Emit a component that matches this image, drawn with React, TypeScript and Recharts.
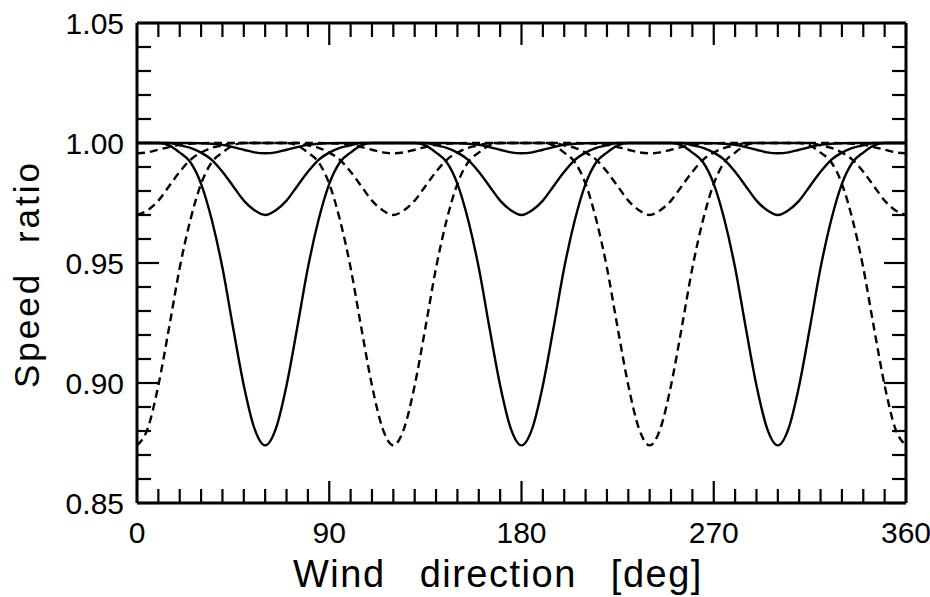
import { LineChart, Line, XAxis, YAxis, ReferenceLine } from "recharts";

// wind direction samples, every 5 degrees
const theta = [
  0, 5, 10, 15, 20, 25, 30, 35, 40, 45, 50, 55, 60, 65, 70, 75, 80, 85, 90, 95, 100, 105, 110, 115,
  120, 125, 130, 135, 140, 145, 150, 155, 160, 165, 170, 175, 180, 185, 190, 195, 200, 205, 210, 215, 220, 225, 230, 235,
  240, 245, 250, 255, 260, 265, 270, 275, 280, 285, 290, 295, 300, 305, 310, 315, 320, 325, 330, 335, 340, 345, 350, 355,
  360,
];

// solid curves: dips at 60 / 180 / 300
const solidDeep = [
  1.0, 1.0, 1.0, 0.999, 0.996, 0.992, 0.983, 0.968, 0.948, 0.923, 0.899, 0.881, 0.874, 0.881, 0.899, 0.923, 0.948, 0.968, 0.983, 0.992, 0.996, 0.999, 1.0, 1.0,
  1.0, 1.0, 1.0, 0.999, 0.996, 0.992, 0.983, 0.968, 0.948, 0.923, 0.899, 0.881, 0.874, 0.881, 0.899, 0.923, 0.948, 0.968, 0.983, 0.992, 0.996, 0.999, 1.0, 1.0,
  1.0, 1.0, 1.0, 0.999, 0.996, 0.992, 0.983, 0.968, 0.948, 0.923, 0.899, 0.881, 0.874, 0.881, 0.899, 0.923, 0.948, 0.968, 0.983, 0.992, 0.996, 0.999, 1.0, 1.0,
  1.0,
];
const solidMid = [
  1.0, 1.0, 1.0, 1.0, 0.999, 0.998, 0.996, 0.993, 0.988, 0.982, 0.976, 0.972, 0.97, 0.972, 0.976, 0.982, 0.988, 0.993, 0.996, 0.998, 0.999, 1.0, 1.0, 1.0,
  1.0, 1.0, 1.0, 1.0, 0.999, 0.998, 0.996, 0.993, 0.988, 0.982, 0.976, 0.972, 0.97, 0.972, 0.976, 0.982, 0.988, 0.993, 0.996, 0.998, 0.999, 1.0, 1.0, 1.0,
  1.0, 1.0, 1.0, 1.0, 0.999, 0.998, 0.996, 0.993, 0.988, 0.982, 0.976, 0.972, 0.97, 0.972, 0.976, 0.982, 0.988, 0.993, 0.996, 0.998, 0.999, 1.0, 1.0, 1.0,
  1.0,
];
const solidSmall = [
  1.0, 1.0, 1.0, 1.0, 1.0, 1.0, 0.9999, 0.9997, 0.9992, 0.9983, 0.9972, 0.9961, 0.9957, 0.9961, 0.9972, 0.9983, 0.9992, 0.9997, 0.9999, 1.0, 1.0, 1.0, 1.0, 1.0,
  1.0, 1.0, 1.0, 1.0, 1.0, 1.0, 0.9999, 0.9997, 0.9992, 0.9983, 0.9972, 0.9961, 0.9957, 0.9961, 0.9972, 0.9983, 0.9992, 0.9997, 0.9999, 1.0, 1.0, 1.0, 1.0, 1.0,
  1.0, 1.0, 1.0, 1.0, 1.0, 1.0, 0.9999, 0.9997, 0.9992, 0.9983, 0.9972, 0.9961, 0.9957, 0.9961, 0.9972, 0.9983, 0.9992, 0.9997, 0.9999, 1.0, 1.0, 1.0, 1.0, 1.0,
  1.0,
];

// dashed curves: dips at 0 / 120 / 240 / 360
const dashedDeep = [
  0.874, 0.881, 0.899, 0.923, 0.948, 0.968, 0.983, 0.992, 0.996, 0.999, 1.0, 1.0, 1.0, 1.0, 1.0, 0.999, 0.996, 0.992, 0.983, 0.968, 0.948, 0.923, 0.899, 0.881,
  0.874, 0.881, 0.899, 0.923, 0.948, 0.968, 0.983, 0.992, 0.996, 0.999, 1.0, 1.0, 1.0, 1.0, 1.0, 0.999, 0.996, 0.992, 0.983, 0.968, 0.948, 0.923, 0.899, 0.881,
  0.874, 0.881, 0.899, 0.923, 0.948, 0.968, 0.983, 0.992, 0.996, 0.999, 1.0, 1.0, 1.0, 1.0, 1.0, 0.999, 0.996, 0.992, 0.983, 0.968, 0.948, 0.923, 0.899, 0.881,
  0.874,
];
const dashedMid = [
  0.97, 0.972, 0.976, 0.982, 0.988, 0.993, 0.996, 0.998, 0.999, 1.0, 1.0, 1.0, 1.0, 1.0, 1.0, 1.0, 0.999, 0.998, 0.996, 0.993, 0.988, 0.982, 0.976, 0.972,
  0.97, 0.972, 0.976, 0.982, 0.988, 0.993, 0.996, 0.998, 0.999, 1.0, 1.0, 1.0, 1.0, 1.0, 1.0, 1.0, 0.999, 0.998, 0.996, 0.993, 0.988, 0.982, 0.976, 0.972,
  0.97, 0.972, 0.976, 0.982, 0.988, 0.993, 0.996, 0.998, 0.999, 1.0, 1.0, 1.0, 1.0, 1.0, 1.0, 1.0, 0.999, 0.998, 0.996, 0.993, 0.988, 0.982, 0.976, 0.972,
  0.97,
];
const dashedSmall = [
  0.9957, 0.9961, 0.9972, 0.9983, 0.9992, 0.9997, 0.9999, 1.0, 1.0, 1.0, 1.0, 1.0, 1.0, 1.0, 1.0, 1.0, 1.0, 1.0, 0.9999, 0.9997, 0.9992, 0.9983, 0.9972, 0.9961,
  0.9957, 0.9961, 0.9972, 0.9983, 0.9992, 0.9997, 0.9999, 1.0, 1.0, 1.0, 1.0, 1.0, 1.0, 1.0, 1.0, 1.0, 1.0, 1.0, 0.9999, 0.9997, 0.9992, 0.9983, 0.9972, 0.9961,
  0.9957, 0.9961, 0.9972, 0.9983, 0.9992, 0.9997, 0.9999, 1.0, 1.0, 1.0, 1.0, 1.0, 1.0, 1.0, 1.0, 1.0, 1.0, 1.0, 0.9999, 0.9997, 0.9992, 0.9983, 0.9972, 0.9961,
  0.9957,
];

const xTicks = [
  0, 10, 20, 30, 40, 50, 60, 70, 80, 90, 100, 110, 120, 130, 140, 150, 160, 170, 180,
  190, 200, 210, 220, 230, 240, 250, 260, 270, 280, 290, 300, 310, 320, 330, 340, 350, 360,
];
const yTicks = [
  0.85, 0.86, 0.87, 0.88, 0.89, 0.9, 0.91, 0.92, 0.93, 0.94, 0.95,
  0.96, 0.97, 0.98, 0.99, 1.0, 1.01, 1.02, 1.03, 1.04, 1.05,
];

const data = theta.map((t, i) => ({
  theta: t,
  solidDeep: solidDeep[i],
  solidMid: solidMid[i],
  solidSmall: solidSmall[i],
  dashedDeep: dashedDeep[i],
  dashedMid: dashedMid[i],
  dashedSmall: dashedSmall[i],
}));

const FONT = '"Liberation Sans", Arial, Helvetica, sans-serif';
const PLOT_W = 769;
const PLOT_H = 480;

function XTick(props: any) {
  const { x, y, payload } = props;
  const v = payload.value;
  const major = v % 90 === 0;
  const len = major ? 22 : 14;
  return (
    <g>
      <line x1={x} y1={y} x2={x} y2={y - len} stroke="#000" strokeWidth={2.2} />
      <line x1={x} y1={y - PLOT_H} x2={x} y2={y - PLOT_H + len} stroke="#000" strokeWidth={2.2} />
      {major && (
        <text x={x} y={y + 40} textAnchor="middle" fontSize={30} fontFamily={FONT} fill="#000">
          {v}
        </text>
      )}
    </g>
  );
}

function YTick(props: any) {
  const { x, y, payload } = props;
  const v = payload.value;
  const major = Math.round(v * 100) % 5 === 0;
  const len = major ? 22 : 14;
  return (
    <g>
      <line x1={x} y1={y} x2={x + len} y2={y} stroke="#000" strokeWidth={2.2} />
      <line x1={x + PLOT_W} y1={y} x2={x + PLOT_W - len} y2={y} stroke="#000" strokeWidth={2.2} />
      {major && (
        <text x={x - 13} y={y + 11} textAnchor="end" fontSize={30} fontFamily={FONT} fill="#000">
          {v.toFixed(2)}
        </text>
      )}
    </g>
  );
}

export default function App() {
  return (
    <div style={{ position: "absolute", left: 0, top: 0, background: "#fff" }}>
      <LineChart width={930} height={597} data={data} margin={{ top: 23, right: 24, bottom: 0, left: 0 }}>
        <XAxis
          dataKey="theta"
          type="number"
          domain={[0, 360]}
          ticks={xTicks}
          interval={0}
          height={94}
          tickSize={0}
          tickMargin={0}
          tickLine={false}
          axisLine={{ stroke: "#000", strokeWidth: 3 }}
          tick={<XTick />}
        />
        <YAxis
          type="number"
          domain={[0.85, 1.05]}
          ticks={yTicks}
          interval={0}
          width={137}
          tickSize={0}
          tickMargin={0}
          tickLine={false}
          axisLine={{ stroke: "#000", strokeWidth: 3 }}
          tick={<YTick />}
          allowDataOverflow
        />
        <ReferenceLine y={1.05} stroke="#000" strokeWidth={3} />
        <ReferenceLine x={360} stroke="#000" strokeWidth={3} />
        <Line dataKey="solidSmall" type="monotone" stroke="#000" strokeWidth={2.4} dot={false} isAnimationActive={false} />
        <Line dataKey="solidMid" type="monotone" stroke="#000" strokeWidth={2.4} dot={false} isAnimationActive={false} />
        <Line dataKey="solidDeep" type="monotone" stroke="#000" strokeWidth={2.4} dot={false} isAnimationActive={false} />
        <Line dataKey="dashedSmall" type="monotone" stroke="#000" strokeWidth={2.4} strokeDasharray="8 5" dot={false} isAnimationActive={false} />
        <Line dataKey="dashedMid" type="monotone" stroke="#000" strokeWidth={2.4} strokeDasharray="8 5" dot={false} isAnimationActive={false} />
        <Line dataKey="dashedDeep" type="monotone" stroke="#000" strokeWidth={2.4} strokeDasharray="8 5" dot={false} isAnimationActive={false} />
        <text
          x={293}
          y={587}
          fontSize={38}
          fontFamily={FONT}
          letterSpacing={1.5}
          wordSpacing={22}
          fill="#000"
        >
          Wind direction [deg]
        </text>
        <text
          x={39}
          y={388}
          transform="rotate(-90 39 388)"
          fontSize={35}
          fontFamily={FONT}
          letterSpacing={3}
          wordSpacing={16}
          fill="#000"
        >
          Speed ratio
        </text>
      </LineChart>
    </div>
  );
}
